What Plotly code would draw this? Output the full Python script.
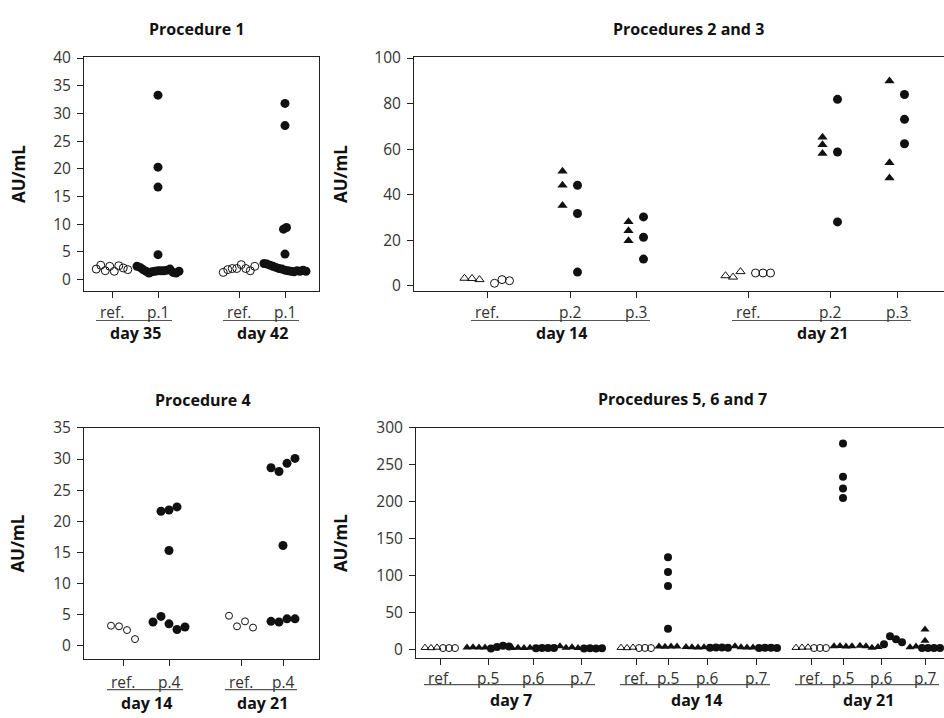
import plotly.graph_objects as go

# ---------------- data (AU/mL) ----------------
# Procedure 1
p1_day35_ref = [1.9, 2.6, 1.6, 2.4, 1.5, 2.5, 2.1, 1.8]
p1_day35_p1 = [33.3, 20.3, 16.7, 4.5, 2.4, 2.2, 1.8, 1.5, 1.2, 1.4, 1.5, 1.6,
               1.6, 1.6, 1.7, 1.9, 1.3, 1.2, 1.5]
p1_day42_ref = [1.3, 1.8, 2.0, 2.0, 2.7, 2.0, 1.6, 2.4]
p1_day42_p1 = [31.8, 27.8, 9.1, 9.4, 4.6, 2.9, 2.8, 2.6, 2.4, 2.2, 2.0, 1.9,
               1.7, 1.6, 1.5, 1.4, 1.6, 1.5, 1.7, 1.5]

# Procedures 2 and 3 (triangles / circles)
p23_d14_ref_tri = [3.4, 3.3, 2.8]
p23_d14_ref_cir = [1.2, 2.8, 2.3]
p23_d14_p2_tri = [50.3, 44.2, 35.3]
p23_d14_p2_cir = [44.2, 31.8, 6.1]
p23_d14_p3_tri = [28.2, 24.2, 19.9]
p23_d14_p3_cir = [30.3, 21.4, 11.8]
p23_d21_ref_tri = [4.5, 3.9, 6.3]
p23_d21_ref_cir = [5.7, 5.7, 5.7]
p23_d21_p2_tri = [65.2, 62.0, 58.1]
p23_d21_p2_cir = [81.9, 58.8, 28.1]
p23_d21_p3_tri = [89.9, 54.1, 47.4]
p23_d21_p3_cir = [84.0, 73.1, 62.4]

# Procedure 4
p4_day14_ref = [3.2, 3.1, 2.5, 1.05]
p4_day14_p4 = [21.6, 21.8, 22.3, 15.3, 3.8, 4.7, 3.5, 2.6, 3.0]
p4_day21_ref = [4.8, 3.1, 3.9, 2.9]
p4_day21_p4 = [28.6, 28.0, 29.3, 30.1, 16.1, 3.9, 3.8, 4.3, 4.3]

# Procedures 5, 6 and 7 (triangles / circles)
p567_d7_ref_tri = [2.5, 2.2, 2.8]
p567_d7_ref_cir = [2.0, 2.0, 2.0]
p567_d7_p5_tri = [2.8, 3.0, 2.6, 2.9]
p567_d7_p5_cir = [1.5, 3.5, 5.0, 4.0]
p567_d7_p6_tri = [2.2, 2.5, 2.0, 2.4]
p567_d7_p6_cir = [1.8, 2.0, 2.2, 2.0]
p567_d7_p7_tri = [4.5, 2.5, 3.0, 2.2]
p567_d7_p7_cir = [1.5, 1.8, 1.5, 1.6]
p567_d14_ref_tri = [2.5, 2.2, 2.8]
p567_d14_ref_cir = [2.0, 2.2, 2.0]
p567_d14_p5_tri = [4.0, 3.8, 4.2, 4.0]
p567_d14_p5_cir = [125, 105, 86, 28]
p567_d14_p6_tri = [3.5, 3.0, 2.8, 3.2]
p567_d14_p6_cir = [2.5, 2.8, 2.6, 2.4]
p567_d14_p7_tri = [4.5, 3.0, 2.8, 2.6]
p567_d14_p7_cir = [2.2, 2.5, 2.3, 2.2]
p567_d21_ref_tri = [2.5, 2.8, 3.0]
p567_d21_ref_cir = [2.0, 2.1, 2.0]
p567_d21_p5_tri = [4.5, 4.8, 4.2, 4.5]
p567_d21_p5_cir = [279, 234, 218, 205]
p567_d21_p6_tri = [5.0, 4.5, 2.5, 3.5]
p567_d21_p6_cir = [7, 18, 14, 10]
p567_d21_p7_tri = [27, 12, 3, 4]
p567_d21_p7_cir = [2, 2, 2, 2]

# labels
titles = ["Procedure 1", "Procedures 2 and 3", "Procedure 4", "Procedures 5, 6 and 7"]
y_title = "AU/mL"
cats_p1 = ["ref.", "p.1"]
cats_p23 = ["ref.", "p.2", "p.3"]
cats_p4 = ["ref.", "p.4"]
cats_p567 = ["ref.", "p.5", "p.6", "p.7"]
days_p1 = ["day 35", "day 42"]
days_p23 = ["day 14", "day 21"]
days_p4 = ["day 14", "day 21"]
days_p567 = ["day 7", "day 14", "day 21"]

# ---------------- layout geometry (pixels) ----------------
W, H = 944, 718
FONT = "Open Sans"
TXT = "#333333"
INK = "#111111"
TICK_FS = 15.5
CAT_FS = 15.5
BOLD_FS = 16


def place(vals, ppu, tol, step, side=0, gap=0.0):
    """Horizontal dodge of points with similar values (beeswarm-like rows)."""
    n = len(vals)
    ys = [v * ppu for v in vals]
    order = sorted(range(n), key=lambda i: ys[i])
    clusters = []
    for i in order:
        if clusters and ys[i] - ys[clusters[-1][-1]] < tol:
            clusters[-1].append(i)
        else:
            clusters.append([i])
    offs = [0.0] * n
    for cl in clusters:
        cl = sorted(cl)
        m = len(cl)
        for k, i in enumerate(cl):
            if side == 0:
                offs[i] = (k - (m - 1) / 2) * step
            elif side < 0:
                offs[i] = -gap - (m - 1 - k) * step
            else:
                offs[i] = gap + k * step
    return offs


panels = [
    dict(sfx="", box=(84, 319, 46, 286), yr=(-2.1, 40.2), dtick=5, mirror=True,
         title=titles[0], title_xy=(197, 17), ylab_x=18,
         centers=[112, 158, 239, 285], cats=cats_p1 * 2, days=days_p1,
         groups_per_day=2, lab_y=307, line_y=316, day_y=329),
    dict(sfx="2", box=(414, 944, 46, 286), yr=(-2.3, 100.5), dtick=20, mirror=False,
         title=titles[1], title_xy=(688, 17), ylab_x=340,
         centers=[487, 570, 636, 748, 830, 897], cats=cats_p23 * 2, days=days_p23,
         groups_per_day=3, lab_y=307, line_y=316, day_y=329),
    dict(sfx="3", box=(84, 319, 426, 663), yr=(-2.2, 35.0), dtick=5, mirror=True,
         title=titles[2], title_xy=(203, 397), ylab_x=18,
         centers=[123, 169, 241, 283], cats=cats_p4 * 2, days=days_p4,
         groups_per_day=2, lab_y=686, line_y=694, day_y=708),
    dict(sfx="4", box=(416, 944, 426, 662), yr=(-11.9, 300), dtick=50, mirror=False,
         title=titles[3], title_xy=(682, 396), ylab_x=340,
         centers=[440, 488, 533, 581, 636, 668, 707, 756, 811, 843, 881, 925],
         cats=cats_p567 * 3, days=days_p567,
         groups_per_day=4, lab_y=682, line_y=689, day_y=705),
]

fig = go.Figure()
annotations = []
shapes = []


def add_points(p, xs, ys, symbol, size, filled):
    if not xs:
        return
    fig.add_trace(go.Scatter(
        x=xs, y=ys, mode="markers", xaxis="x" + p["sfx"], yaxis="y" + p["sfx"],
        showlegend=False, hoverinfo="y",
        marker=dict(symbol=symbol, size=size, color=INK,
                    line=dict(width=1 if not filled else 0, color=INK)),
    ))


def ppu_of(p):
    l, r, t, b = p["box"]
    return (b - t) / (p["yr"][1] - p["yr"][0])


# ---- Panel 1 : single series, centred rows
P = panels[0]
ppu = ppu_of(P)
p1_groups = [(P["centers"][0], p1_day35_ref, False), (P["centers"][1], p1_day35_p1, True),
             (P["centers"][2], p1_day42_ref, False), (P["centers"][3], p1_day42_p1, True)]
fx, fy, ox, oy = [], [], [], []
for c, vals, filled in p1_groups:
    offs = place(vals, ppu, 8, 3.0 if filled else 4.5)
    if filled:
        fx += [c + o for o in offs]; fy += vals
    else:
        ox += [c + o for o in offs]; oy += vals
add_points(P, ox, oy, "circle-open", 8, False)
add_points(P, fx, fy, "circle", 9, True)

# ---- Panel 3 : single series, centred rows
P = panels[2]
ppu = ppu_of(P)
p3_groups = [(P["centers"][0], p4_day14_ref, False), (P["centers"][1], p4_day14_p4, True),
             (P["centers"][2], p4_day21_ref, False), (P["centers"][3], p4_day21_p4, True)]
fx, fy, ox, oy = [], [], [], []
for c, vals, filled in p3_groups:
    offs = place(vals, ppu, 10, 8.0)
    if filled:
        fx += [c + o for o in offs]; fy += vals
    else:
        ox += [c + o for o in offs]; oy += vals
add_points(P, ox, oy, "circle-open", 7, False)
add_points(P, fx, fy, "circle", 9, True)

# ---- Panel 2 : triangles to the left, circles to the right
P = panels[1]
ppu = ppu_of(P)
p2_groups = [
    (P["centers"][0], p23_d14_ref_tri, p23_d14_ref_cir, False),
    (P["centers"][1], p23_d14_p2_tri, p23_d14_p2_cir, True),
    (P["centers"][2], p23_d14_p3_tri, p23_d14_p3_cir, True),
    (P["centers"][3], p23_d21_ref_tri, p23_d21_ref_cir, False),
    (P["centers"][4], p23_d21_p2_tri, p23_d21_p2_cir, True),
    (P["centers"][5], p23_d21_p3_tri, p23_d21_p3_cir, True),
]
acc = {k: ([], []) for k in ["ft", "fc", "ot", "oc"]}
for c, tri, cir, filled in p2_groups:
    to = place(tri, ppu, 6, 7.5, side=-1, gap=7.5)
    co = place(cir, ppu, 6, 7.5, side=1, gap=7.5)
    kt, kc = ("ft", "fc") if filled else ("ot", "oc")
    acc[kt][0].extend([c + o for o in to]); acc[kt][1].extend(tri)
    acc[kc][0].extend([c + o for o in co]); acc[kc][1].extend(cir)
add_points(P, *acc["ot"], "triangle-up-open", 8, False)
add_points(P, *acc["oc"], "circle-open", 8, False)
add_points(P, *acc["ft"], "triangle-up", 9, True)
add_points(P, *acc["fc"], "circle", 9, True)

# ---- Panel 4 : triangles then circles in a common row
P = panels[3]
ppu = ppu_of(P)
p4_groups = [
    (P["centers"][0], p567_d7_ref_tri, p567_d7_ref_cir, False),
    (P["centers"][1], p567_d7_p5_tri, p567_d7_p5_cir, True),
    (P["centers"][2], p567_d7_p6_tri, p567_d7_p6_cir, True),
    (P["centers"][3], p567_d7_p7_tri, p567_d7_p7_cir, True),
    (P["centers"][4], p567_d14_ref_tri, p567_d14_ref_cir, False),
    (P["centers"][5], p567_d14_p5_tri, p567_d14_p5_cir, True),
    (P["centers"][6], p567_d14_p6_tri, p567_d14_p6_cir, True),
    (P["centers"][7], p567_d14_p7_tri, p567_d14_p7_cir, True),
    (P["centers"][8], p567_d21_ref_tri, p567_d21_ref_cir, False),
    (P["centers"][9], p567_d21_p5_tri, p567_d21_p5_cir, True),
    (P["centers"][10], p567_d21_p6_tri, p567_d21_p6_cir, True),
    (P["centers"][11], p567_d21_p7_tri, p567_d21_p7_cir, True),
]
acc = {k: ([], []) for k in ["ft", "fc", "ot", "oc"]}
for c, tri, cir, filled in p4_groups:
    allv = list(tri) + list(cir)
    offs = place(allv, ppu, 4, 6.0)
    nt = len(tri)
    kt, kc = ("ft", "fc") if filled else ("ot", "oc")
    acc[kt][0].extend([c + o for o in offs[:nt]]); acc[kt][1].extend(tri)
    acc[kc][0].extend([c + o for o in offs[nt:]]); acc[kc][1].extend(cir)
add_points(P, *acc["ot"], "triangle-up-open", 7, False)
add_points(P, *acc["oc"], "circle-open", 7, False)
add_points(P, *acc["ft"], "triangle-up", 8, True)
add_points(P, *acc["fc"], "circle", 8, True)

# ---- axes, titles, category labels
layout_axes = {}
for p in panels:
    l, r, t, b = p["box"]
    xk = "xaxis" + p["sfx"]
    yk = "yaxis" + p["sfx"]
    layout_axes[xk] = dict(
        domain=[l / W, min(r / W, 1.0)], range=[l, r], anchor="y" + p["sfx"],
        showline=True, linecolor="#222222", linewidth=1, mirror=True,
        tickvals=p["centers"], ticktext=[""] * len(p["centers"]),
        ticks="outside", ticklen=6, tickcolor="#222222",
        showgrid=False, zeroline=False, fixedrange=True)
    layout_axes[yk] = dict(
        domain=[1 - b / H, 1 - t / H], range=list(p["yr"]), anchor="x" + p["sfx"],
        showline=True, linecolor="#222222", linewidth=1, mirror=p["mirror"],
        dtick=p["dtick"], tick0=0, ticks="outside", ticklen=6, tickcolor="#222222",
        ticklabelstandoff=3,
        tickfont=dict(family=FONT, size=TICK_FS, color=TXT),
        showgrid=False, zeroline=False, fixedrange=True)

    annotations.append(dict(
        text="<b>%s</b>" % p["title"], x=p["title_xy"][0] / W, y=1 - p["title_xy"][1] / H,
        xref="paper", yref="paper", showarrow=False, xanchor="center", yanchor="middle",
        font=dict(family=FONT, size=BOLD_FS, color="#111111")))
    annotations.append(dict(
        text="<b>%s</b>" % y_title, x=p["ylab_x"] / W, y=1 - ((t + b) / 2) / H,
        xref="paper", yref="paper", showarrow=False, textangle=-90,
        xanchor="center", yanchor="middle",
        font=dict(family=FONT, size=17, color="#111111")))

    for c, lab in zip(p["centers"], p["cats"]):
        annotations.append(dict(
            text=lab, x=c / W, y=1 - p["lab_y"] / H, xref="paper", yref="paper",
            showarrow=False, xanchor="center", yanchor="middle",
            font=dict(family=FONT, size=CAT_FS, color=TXT)))
    g = p["groups_per_day"]
    for d, day in enumerate(p["days"]):
        cs = p["centers"][d * g:(d + 1) * g]
        x0, x1 = cs[0] - 16, cs[-1] + 14
        shapes.append(dict(type="line", xref="paper", yref="paper",
                           x0=x0 / W, x1=x1 / W, y0=1 - p["line_y"] / H, y1=1 - p["line_y"] / H,
                           line=dict(color="#555555", width=1.2)))
        annotations.append(dict(
            text="<b>%s</b>" % day, x=((cs[0] + cs[-1]) / 2) / W, y=1 - p["day_y"] / H,
            xref="paper", yref="paper", showarrow=False, xanchor="center", yanchor="middle",
            font=dict(family=FONT, size=BOLD_FS, color="#111111")))

fig.update_layout(
    width=W, height=H, margin=dict(l=0, r=0, t=0, b=0),
    paper_bgcolor="white", plot_bgcolor="white",
    annotations=annotations, shapes=shapes, showlegend=False,
    **layout_axes)

# remove the page's default body margin so the figure sits at the window's corner
fig.write_html("out.html", config={"displayModeBar": False},
               post_script="document.body.style.margin='0px';document.body.style.overflow='hidden';")
